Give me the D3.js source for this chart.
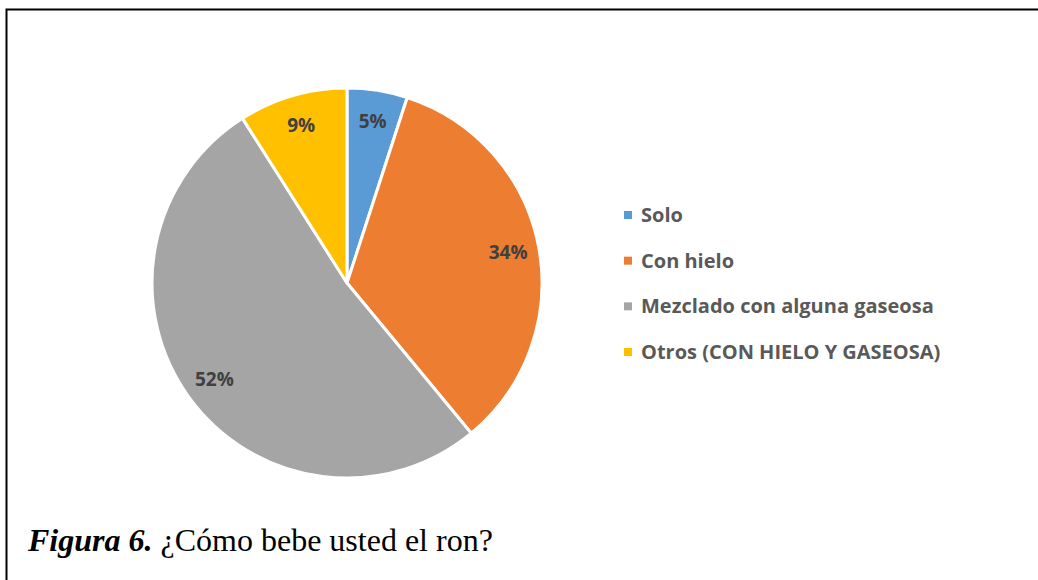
<!DOCTYPE html>
<html>
<head>
<meta charset="utf-8">
<script src="https://cdn.jsdelivr.net/npm/d3@7"></script>
<style>
  body { margin: 0; background: #fff; }
  svg { display: block; }
</style>
</head>
<body>
<script>
(function () {

    const width = 1038, height = 580;

    const categories = ['Solo', 'Con hielo', 'Mezclado con alguna gaseosa', 'Otros (CON HIELO Y GASEOSA)'];
    const values = [5, 34, 52, 9];
    const colors = ['#5B9BD5', '#ED7D31', '#A5A5A5', '#FFC000'];

    const center = {x: 347, y: 283};
    const radius = 195;

    const svg = d3.select('body')
        .append('svg')
        .attr('width', width)
        .attr('height', height);

    // frame: left and top edges only
    svg.append('path')
        .attr('d', 'M6.5,' + height + ' V9.5 H' + width)
        .attr('fill', 'none')
        .attr('stroke', '#000')
        .attr('stroke-width', 2);

    const pie = d3.pie().sort(null).value(d => d);
    const arcs = pie(values);

    const arc = d3.arc().innerRadius(0).outerRadius(radius);
    const labelArc = d3.arc().innerRadius(164).outerRadius(164);

    const g = svg.append('g')
        .attr('transform', 'translate(' + center.x + ', ' + center.y + ')');

    g.selectAll('path.slice')
        .data(arcs)
        .enter()
        .append('path')
        .attr('class', 'slice')
        .attr('d', arc)
        .attr('fill', (d, i) => colors[i])
        .attr('stroke', '#fff')
        .attr('stroke-width', 3)
        .attr('stroke-linejoin', 'round');

    g.selectAll('text.lbl')
        .data(arcs)
        .enter()
        .append('text')
        .attr('class', 'lbl')
        .attr('transform', d => 'translate(' + labelArc.centroid(d) + ')')
        .attr('text-anchor', 'middle')
        .attr('dy', '0.35em')
        .style('font-family', '"Open Sans", sans-serif')
        .style('font-weight', 'bold')
        .style('font-size', '19px')
        .style('fill', '#404040')
        .text(d => d.data + '%');

    // legend
    const legendY = d3.scalePoint()
        .domain(categories)
        .range([215, 352]);

    const legend = svg.append('g');

    const item = legend.selectAll('g')
        .data(categories)
        .enter()
        .append('g')
        .attr('transform', d => 'translate(624, ' + legendY(d) + ')');

    item.append('rect')
        .attr('x', 0)
        .attr('y', -4)
        .attr('width', 8)
        .attr('height', 8)
        .attr('fill', (d, i) => colors[i]);

    item.append('text')
        .attr('x', 17)
        .attr('dy', '0.35em')
        .style('font-family', '"Open Sans", sans-serif')
        .style('font-weight', 'bold')
        .style('font-size', '20px')
        .style('fill', '#595959')
        .text(d => d);

    // caption
    const caption = svg.append('text')
        .attr('x', 28)
        .attr('y', 551)
        .style('font-family', '"Liberation Serif", "Times New Roman", serif')
        .style('font-size', '32px')
        .style('fill', '#000');

    caption.append('tspan')
        .style('font-weight', 'bold')
        .style('font-style', 'italic')
        .text('Figura 6.');

    caption.append('tspan')
        .text(' \u00BFC\u00F3mo bebe usted el ron?');

})();
</script>
</body>
</html>
